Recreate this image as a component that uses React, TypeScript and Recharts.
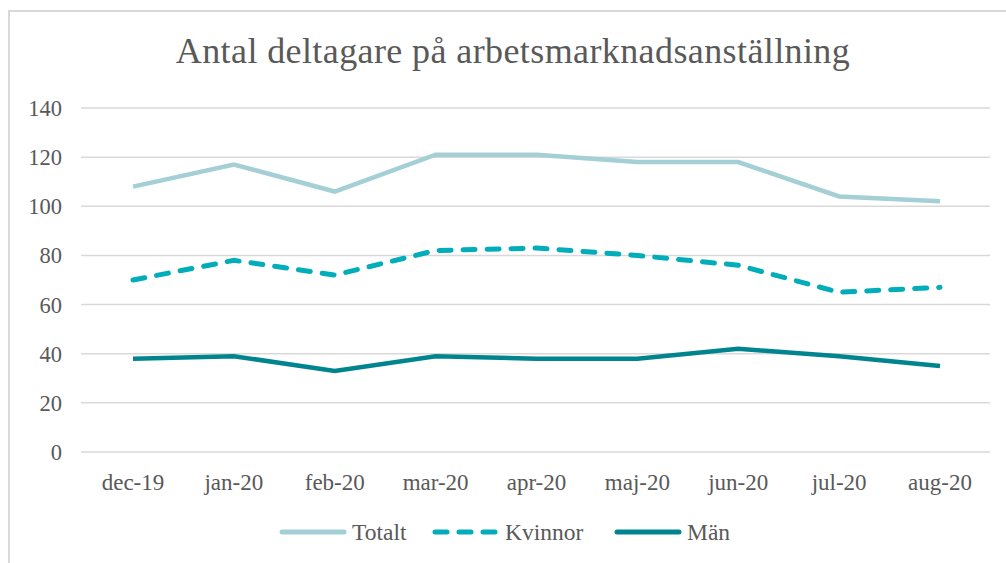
import React from "react";
import { LineChart, Line, XAxis, YAxis, CartesianGrid, Legend } from "recharts";

const months = ["dec-19", "jan-20", "feb-20", "mar-20", "apr-20", "maj-20", "jun-20", "jul-20", "aug-20"];
const totalt = [108, 117, 106, 121, 121, 118, 118, 104, 102];
const kvinnor = [70, 78, 72, 82, 83, 80, 76, 65, 67];
const man = [38, 39, 33, 39, 38, 38, 42, 39, 35];
const yTicks = [0, 20, 40, 60, 80, 100, 120, 140];

const data = months.map((m, i) => ({ month: m, Totalt: totalt[i], Kvinnor: kvinnor[i], "Män": man[i] }));

const FONT = "'Liberation Serif', 'Times New Roman', serif";
const TEXT = "#595959";
const C_TOT = "#A3CFD5";
const C_KV = "#00ADB9";
const C_MAN = "#00858F";

const legendItems = [
  { name: "Totalt", color: C_TOT, dash: undefined as string | undefined, w: 153 },
  { name: "Kvinnor", color: C_KV, dash: "12 12", w: 182 },
  { name: "Män", color: C_MAN, dash: undefined as string | undefined, w: 117 },
];

const CustomLegend = () => (
  <div style={{ display: "flex", justifyContent: "center", height: 26, alignItems: "center", paddingLeft: 10, fontFamily: FONT, fontSize: 23.5, color: TEXT }}>
    {legendItems.map((it) => (
      <div key={it.name} style={{ display: "flex", alignItems: "center", width: it.w }}>
        <svg width={68} height={12}>
          <line x1={3} y1={6} x2={65} y2={6} stroke={it.color} strokeWidth={5} strokeLinecap="round" strokeDasharray={it.dash} />
        </svg>
        <span style={{ marginLeft: 5, lineHeight: "26px", fontFamily: FONT }}>{it.name}</span>
      </div>
    ))}
  </div>
);

export default function App() {
  return (
    <div style={{ position: "absolute", left: 8, top: 10, width: 1010, height: 560, borderLeft: "2px solid #d9d9d9", borderTop: "2px solid #d9d9d9", background: "#fff", overflow: "hidden" }}>
      <div style={{ position: "absolute", left: 0, top: 18, width: 1006, textAlign: "center", fontFamily: FONT, fontSize: 36, letterSpacing: 0.4, color: TEXT, lineHeight: "42px" }}>
        Antal deltagare på arbetsmarknadsanställning
      </div>
      <LineChart width={996} height={551} data={data} margin={{ top: 96, right: 16, bottom: 0, left: 0 }}>
        <CartesianGrid vertical={false} stroke="#d9d9d9" strokeWidth={1.5} />
        <XAxis dataKey="month" axisLine={false} tickLine={false} tickSize={6} tickMargin={16} height={85}
          padding={{ left: 52, right: 50 }}
          tick={{ fill: TEXT, fontSize: 23, fontFamily: FONT }} interval={0} />
        <YAxis domain={[0, 140]} ticks={yTicks} axisLine={false} tickLine={false} width={71} tickSize={6} tickMargin={13}
          tick={{ fill: TEXT, fontSize: 22.5, fontFamily: FONT }} />
        <Legend verticalAlign="bottom" content={<CustomLegend />} wrapperStyle={{ bottom: 18, height: 26 }} />
        <Line dataKey="Totalt" stroke={C_TOT} strokeWidth={4.5} dot={false} isAnimationActive={false} />
        <Line dataKey="Kvinnor" stroke={C_KV} strokeWidth={5} strokeDasharray="12 12" strokeLinecap="round" dot={false} isAnimationActive={false} />
        <Line dataKey="Män" stroke={C_MAN} strokeWidth={4.5} dot={false} isAnimationActive={false} />
      </LineChart>
    </div>
  );
}
